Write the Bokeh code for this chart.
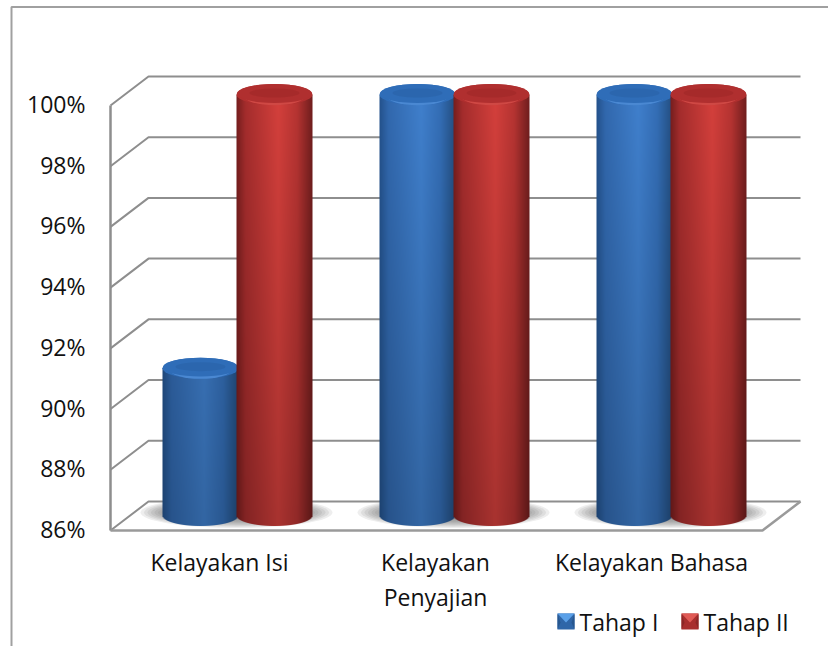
from bokeh.plotting import figure
from bokeh.models import Range1d
from bokeh.core.properties import value
from bokeh.embed import file_html
from bokeh.resources import INLINE
import numpy as np

# ---- data ----
categories = ["Kelayakan Isi", "Kelayakan\nPenyajian", "Kelayakan Bahasa"]
tahap_1 = [90.9, 100, 100]
tahap_2 = [100, 100, 100]
series_names = ["Tahap I", "Tahap II"]
y_ticks = [86, 88, 90, 92, 94, 96, 98, 100]

# ---- layout (page pixels) ----
W, H = 828, 646
UNIT = 30.36            # px per percentage point on the front plane
FLOOR_PX = 530
DX, DY = 38, 29         # depth of the chart box
LEFT, RIGHT_BACK = 110, 800
FONT = value("Open Sans")
FS = "23px"
LINE = "#8e8e8e"
TICK_LIFT = 1.5 / UNIT

def v_of(px):
    return 86 + (FLOOR_PX - px) / UNIT

DEPTH = DY / UNIT
p = figure(width=W, height=H, x_range=Range1d(0, W), y_range=Range1d(v_of(H), v_of(0)),
           toolbar_location=None, output_backend="svg", min_border=0,
           outline_line_color=None, background_fill_color="white",
           x_axis_type=None, y_axis_type=None)
p.grid.visible = False

# outer chart frame
p.line([11, 11, W], [v_of(H), v_of(6.5), v_of(6.5)], line_color="#a0a0a0", line_width=2)

# walls and floor
for t in y_ticks:
    p.line([LEFT, LEFT + DX, RIGHT_BACK], [t, t + DEPTH, t + DEPTH], line_color=LINE, line_width=2)
p.line([LEFT, LEFT], [86, 100], line_color=LINE, line_width=2.5)
p.line([LEFT, RIGHT_BACK - DX, RIGHT_BACK], [86, 86, 86 + DEPTH], line_color="#9a9a9a", line_width=2.5)

# cylinders
CYL_BASE_PX, CYL_UNIT = 515, 30.07
A_W = 38
GROUP_X = [200, 417, 634]
OFFS = [0, 74]
B_PX = 10.5
def cyl_v(v):
    return v_of(CYL_BASE_PX - (v - 86) * CYL_UNIT)

stops = [0, .12, .55, .8, 1]
PROFILE = {
    0: [(36, 82, 140), (50, 105, 175), (64, 128, 205), (52, 110, 182), (36, 78, 128)],
    1: [(118, 30, 30), (165, 45, 45), (212, 64, 60), (182, 52, 50), (112, 30, 30)],
}
RIM = {0: "#4a88d2", 1: "#cf4844"}
TOP = {0: "#2f6db8", 1: "#b02f2f"}
MID = {0: "#2a62a6", 1: "#a02828"}

# soft floor shadows
for g in GROUP_X:
    for i in range(8):
        p.ellipse([g + 36], [v_of(512)], width=[192 - i * 7], height=[(31 - i * 2.2) / UNIT],
                  fill_color="#555555", fill_alpha=0.10, line_color=None)

def cylinder(cx, val, k):
    base = cyl_v(86)
    tv = cyl_v(val)
    h_px = int(round((tv - base) * UNIT + B_PX))
    w_px = 2 * A_W
    img = np.zeros((h_px, w_px, 4), dtype=np.uint8)
    arr = np.array(PROFILE[k], float)
    ts = (np.arange(w_px) + .5) / w_px
    prof = np.stack([np.interp(ts, stops, arr[:, i]) for i in range(3)], axis=1)
    for r in range(h_px):
        # row 0 is the lowest row of the picture
        up = r - B_PX                       # px above the base centre
        f = 1 - 0.20 * (1 - np.clip(up / 420, 0, 1))
        edge = -B_PX * np.sqrt(np.clip(1 - (2 * ts - 1) ** 2, 0, 1))
        alpha = np.clip(r + .5 - B_PX - edge + .5, 0, 1)
        img[r, :, :3] = np.clip(prof * f, 0, 255).astype(np.uint8)
        img[r, :, 3] = (alpha * 255).astype(np.uint8)
    rgba = img.view(np.uint32).reshape(h_px, w_px)
    p.image_rgba(image=[rgba], x=[cx - A_W], y=[base - B_PX / UNIT], dw=[w_px], dh=[h_px / UNIT])
    p.ellipse([cx], [tv], width=[w_px], height=[2 * B_PX / UNIT], fill_color=TOP[k], line_color=None)
    p.ellipse([cx], [tv - 1.2 / UNIT], width=[w_px - 14], height=[(2 * B_PX - 2) / UNIT],
              fill_color=RIM[k], line_color=None)
    p.ellipse([cx], [tv + 1.0 / UNIT], width=[w_px - 1], height=[(2 * B_PX - 2.2) / UNIT],
              fill_color=TOP[k], line_color=None)
    p.ellipse([cx], [tv + 1.5 / UNIT], width=[w_px - 26], height=[(2 * B_PX - 12) / UNIT],
              fill_color=MID[k], fill_alpha=0.6, line_color=None)

for g, a, b in zip(GROUP_X, tahap_1, tahap_2):
    cylinder(g + OFFS[0], a, 0)
    cylinder(g + OFFS[1], b, 1)

# tick labels
p.text([85] * len(y_ticks), [t + TICK_LIFT for t in y_ticks], text=[f"{t}%" for t in y_ticks], text_font=FONT,
       text_font_size=FS, text_color="#111111", text_align="right", text_baseline="middle")

# category labels
LABEL_X = [219, 435, 651]
for x, c in zip(LABEL_X, categories):
    for i, line in enumerate(c.split("\n")):
        p.text([x], [v_of(561 + 35 * i)], text=[line], text_font=FONT, text_font_size=FS,
               text_color="#111111", text_align="center", text_baseline="middle")

# legend
for x, k, name, tx in zip([557, 681], [0, 1], series_names, [579, 703]):
    sq = [v_of(613), v_of(629)]
    mid = v_of(622)
    dark = {0: "#27578f", 1: "#8c2626"}[k]
    body = {0: "#2f66a8", 1: "#a82e2e"}[k]
    light = {0: "#5aa0e8", 1: "#e05a55"}[k]
    p.quad(left=[x], right=[x + 17], top=[sq[0]], bottom=[sq[1]], fill_color=body, line_color=None)
    p.patch([x, x + 3, x + 3, x], [sq[0], mid, mid, sq[1]], fill_color=dark, line_color=None)
    p.patch([x + 17, x + 14, x + 14, x + 17], [sq[0], mid, mid, sq[1]], fill_color=dark, line_color=None)
    p.patch([x, x + 17, x + 8.5], [sq[0], sq[0], mid], fill_color=light, line_color=None)
    p.text([tx], [v_of(621)], text=[name], text_font=FONT, text_font_size=FS, text_color="#111111",
           text_align="left", text_baseline="middle")

open("out.html", "w").write(file_html(p, INLINE))
